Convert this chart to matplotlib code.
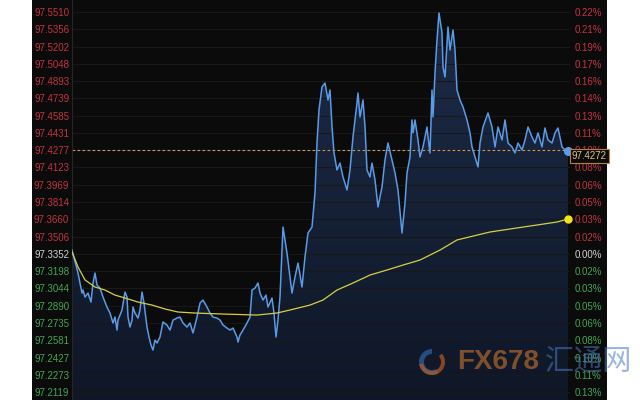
import matplotlib
matplotlib.use("Agg")
import matplotlib.pyplot as plt
from matplotlib.patches import Rectangle, Wedge
import numpy as np

plt.rcParams['font.family'] = ['Liberation Sans', 'DejaVu Sans']

# price ticks (left) and percent change labels (right)
price_ticks = [97.5510, 97.5356, 97.5202, 97.5048, 97.4893, 97.4739, 97.4585, 97.4431,
               97.4277, 97.4123, 97.3969, 97.3814, 97.3660, 97.3506, 97.3352, 97.3198,
               97.3044, 97.2890, 97.2735, 97.2581, 97.2427, 97.2273, 97.2119]
pct_labels = ['0.22%', '0.21%', '0.19%', '0.17%', '0.16%', '0.14%', '0.13%', '0.11%',
              '0.10%', '0.08%', '0.06%', '0.05%', '0.03%', '0.02%', '0.00%', '0.02%',
              '0.03%', '0.05%', '0.06%', '0.08%', '0.10%', '0.11%', '0.13%']
ref_price = 97.3352
last_price = 97.4272
prev_line = 97.4277

# minute index / price of the intraday series
t_price = [0, 6, 10, 11, 13, 16, 19, 21, 23, 25, 28, 31, 35, 38, 41, 43, 45, 46, 50, 53,
           55, 56, 58, 60, 61, 63, 66, 68, 70, 72, 75, 77, 79, 81, 83, 85, 88, 91, 95, 98,
           101, 105, 108, 111, 115, 118, 121, 125, 128, 131, 135, 138, 141, 145, 148, 151,
           155, 158, 161, 165, 166, 168, 171, 175, 178, 180, 183, 186, 188, 191, 194, 196,
           200, 202, 204, 206, 208, 211, 215, 220, 223, 226, 230, 233, 236, 240, 243, 245,
           247, 250, 253, 256, 258, 260, 262, 265, 268, 271, 275, 278, 281, 285, 286, 288,
           291, 293, 295, 298, 300, 303, 306, 310, 313, 316, 320, 323, 326, 330, 333, 335,
           338, 340, 341, 343, 346, 348, 351, 355, 356, 358, 360, 361, 363, 365, 367, 370,
           371, 373, 376, 378, 381, 383, 385, 388, 391, 395, 398, 400, 403, 406, 408, 411,
           416, 420, 423, 426, 430, 433, 436, 440, 443, 446, 450, 453, 456, 460, 463, 466,
           470, 473, 476, 480, 483, 486, 490, 493, 496]
price = [97.3386, 97.3181, 97.3002, 97.3029, 97.2967, 97.3002, 97.2922, 97.3092, 97.3181,
         97.3074, 97.3047, 97.2967, 97.2877, 97.2824, 97.2735, 97.2788, 97.2672, 97.2761,
         97.2851, 97.3011, 97.2967, 97.2788, 97.2699, 97.2761, 97.2877, 97.2824, 97.2779,
         97.2851, 97.3011, 97.2913, 97.2699, 97.2610, 97.2538, 97.2494, 97.2583, 97.2556,
         97.2610, 97.2744, 97.2717, 97.2672, 97.2761, 97.2779, 97.2788, 97.2735, 97.2699,
         97.2735, 97.2646, 97.2788, 97.2913, 97.2940, 97.2877, 97.2824, 97.2788, 97.2779,
         97.2761, 97.2717, 97.2690, 97.2672, 97.2690, 97.2610, 97.2565, 97.2628, 97.2672,
         97.2735, 97.2788, 97.3029, 97.3047, 97.3092, 97.3002, 97.2940, 97.2984, 97.2877,
         97.2958, 97.2824, 97.2610, 97.2761, 97.2967, 97.3591, 97.3359, 97.3002, 97.3145,
         97.3270, 97.3056, 97.3324, 97.3538, 97.3591, 97.3895, 97.4341, 97.4635, 97.4841,
         97.4876, 97.4725, 97.4814, 97.4484, 97.4252, 97.4100, 97.4162, 97.4038, 97.3922,
         97.4100, 97.4395, 97.4698, 97.4787, 97.4573, 97.4725, 97.4484, 97.4100, 97.4038,
         97.4162, 97.4011, 97.3770, 97.3949, 97.4190, 97.4341, 97.4190, 97.4074, 97.3922,
         97.3538, 97.3806, 97.4074, 97.4217, 97.4547, 97.4431, 97.4547, 97.4368, 97.4217,
         97.4306, 97.4484, 97.4395, 97.4252, 97.4814, 97.4573, 97.4966, 97.5260, 97.5501,
         97.5323, 97.5019, 97.4930, 97.5376, 97.5171, 97.5349, 97.5171, 97.4814, 97.4725,
         97.4663, 97.4547, 97.4431, 97.4306, 97.4217, 97.4127, 97.4341, 97.4484, 97.4609,
         97.4484, 97.4306, 97.4484, 97.4368, 97.4547, 97.4341, 97.4306, 97.4252, 97.4341,
         97.4279, 97.4368, 97.4484, 97.4395, 97.4341, 97.4431, 97.4306, 97.4475, 97.4368,
         97.4341, 97.4431, 97.4475, 97.4306, 97.4279, 97.4272]

# moving average line
t_ma = [0, 6, 13, 23, 33, 43, 53, 66, 80, 93, 106, 123, 151, 185, 205, 218, 238, 251,
        265, 281, 298, 315, 331, 348, 368, 385, 418, 451, 485, 496]
ma = [97.3368, 97.3235, 97.3119, 97.3056, 97.3029, 97.2984, 97.2958, 97.2922, 97.2895,
      97.2860, 97.2833, 97.2824, 97.2815, 97.2806, 97.2824, 97.2851, 97.2895, 97.2940,
      97.3029, 97.3092, 97.3163, 97.3208, 97.3252, 97.3297, 97.3386, 97.3476, 97.3547,
      97.3591, 97.3636, 97.3663]

W, H = 640, 400
fig = plt.figure(figsize=(6.4, 4.0), dpi=100)
fig.patch.set_facecolor('white')
# dark panel behind everything
fig.patches.append(Rectangle((32 / W, 0), (607 - 32) / W, 1, transform=fig.transFigure,
                             facecolor='#0b0b0c', edgecolor='none', zorder=-10))

ax = fig.add_axes([72 / W, 0, (570 - 72) / W, 1])
ax.set_facecolor('#0b0b0c')
ymin, ymax = 97.2048, 97.5617
ax.set_ylim(ymin, ymax)
ax.set_xlim(0, 498)
for s in ax.spines.values():
    s.set_visible(False)
ax.spines['left'].set_visible(True)
ax.spines['left'].set_color('#262626')

ax.set_yticks(price_ticks)
ax.set_yticklabels([f'{p:.4f}' for p in price_ticks], fontsize=7)
ax.tick_params(axis='y', length=0, pad=2)
ax.set_xticks([])
for lab, p in zip(ax.get_yticklabels(), price_ticks):
    if abs(p - ref_price) < 1e-6:
        lab.set_color('#d2d2d2')
    elif p > ref_price:
        lab.set_color('#c2343f')
    else:
        lab.set_color('#45a552')
ax.grid(axis='y', color='#181818', lw=0.8)

# gradient fill under the price line
grad = np.linspace(0, 1, 256).reshape(-1, 1)
cmap = matplotlib.colors.LinearSegmentedColormap.from_list('f', ['#0f1727', '#1c2b47'])
im = ax.imshow(grad, cmap=cmap, aspect='auto', extent=[0, 498, ymin, max(price)],
               origin='lower', zorder=1)
poly = ax.fill_between(t_price, price, ymin, color='none', lw=0)
clip = poly.get_paths()[0]
im.set_clip_path(clip, transform=ax.transData)

ax.plot(t_price, price, color='#5a9ae6', lw=1.1, zorder=3)
ax.plot(t_ma, ma, color='#d6cf45', lw=0.9, zorder=3)
ax.axhline(prev_line, color='#c99a5e', lw=0.8, ls=(0, (2.5, 2)), zorder=2)
ax.scatter([t_price[-1]], [price[-1]], s=30, color='#5b9de8', zorder=4, clip_on=False)
ax.scatter([t_ma[-1]], [ma[-1]], s=25, color='#f2e51c', zorder=4, clip_on=False)

# right axis with percent labels
ax2 = ax.twinx()
ax2.set_ylim(ymin, ymax)
for s in ax2.spines.values():
    s.set_visible(False)
ax2.set_yticks(price_ticks)
ax2.set_yticklabels(pct_labels, fontsize=7)
ax2.tick_params(axis='y', length=0, pad=3)
for lab, p in zip(ax2.get_yticklabels(), price_ticks):
    if abs(p - ref_price) < 1e-6:
        lab.set_color('#d2d2d2')
    elif p > ref_price:
        lab.set_color('#c2343f')
    else:
        lab.set_color('#45a552')

# last price box
ax2.text(1.004, last_price, f'{last_price:.4f}', transform=ax2.get_yaxis_transform(),
         fontsize=7, color='#e2c08c', va='top', ha='left', zorder=6,
         bbox=dict(boxstyle='square,pad=0.2', facecolor='#0b0b0c', edgecolor='#b5804a', lw=0.8))

# watermark
fig.text(457 / W, 1 - 362 / H, 'FX678', fontsize=20, fontweight='bold', color='#9c5e2c',
         alpha=0.8, va='center', ha='left')
fig.text(545 / W, 1 - 362 / H, '汇通网', fontsize=21, color='#4a78c0', alpha=0.55,
         va='center', ha='left', family=['Noto Sans CJK SC', 'DejaVu Sans'])
fig.patches.append(Wedge((432, H - 362), 13, 90, 300, width=5, transform=None,
                         facecolor='#2f5e9e', alpha=0.75, edgecolor='none'))
fig.patches.append(Wedge((432, H - 362), 13, 190, 40, width=4, transform=None,
                         facecolor='#b85a26', alpha=0.7, edgecolor='none'))

fig.savefig('out.png', dpi=100, facecolor=fig.get_facecolor())
